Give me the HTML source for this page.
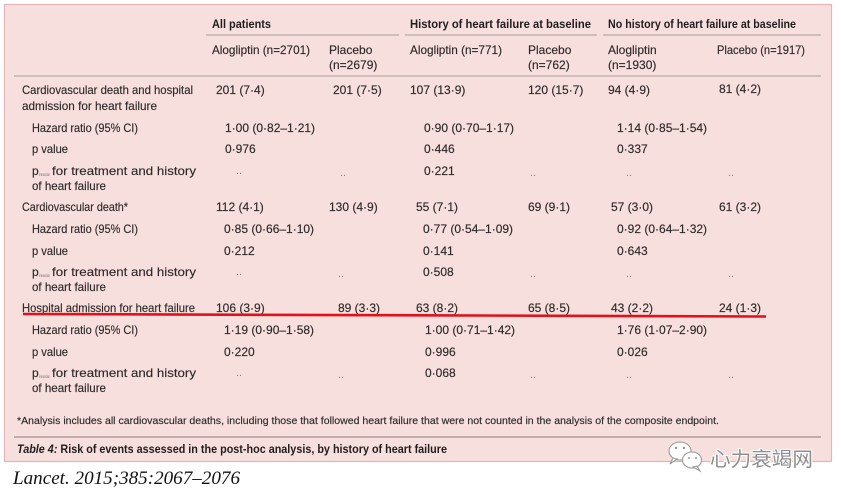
<!DOCTYPE html>
<html><head><meta charset="utf-8"><style>
html,body{margin:0;padding:0;background:#fff;width:841px;height:495px;overflow:hidden}
svg{display:block}
text{font-family:"Liberation Sans","Noto Sans CJK SC",sans-serif;font-size:12px;fill:#2f2929;stroke:#2f2929;stroke-width:0.15}
.b{font-weight:bold;fill:#221d1d;stroke:none}
.d{fill:#8c8080;stroke:none;font-size:11px}
.s{font-size:4.5px;fill:#7a6e6e;stroke:none}
</style></head><body>
<svg width="841" height="495" viewBox="0 0 841 495" xmlns="http://www.w3.org/2000/svg">
<rect x="4.5" y="4.5" width="827" height="457" fill="#f6dfdc" stroke="#e3b5b9" stroke-width="1.2"/>
<!-- header lines -->
<line x1="206" y1="35" x2="399" y2="35" stroke="#aa9b9b" stroke-width="1"/>
<line x1="405" y1="35" x2="597" y2="35" stroke="#aa9b9b" stroke-width="1"/>
<line x1="603" y1="35" x2="821" y2="35" stroke="#aa9b9b" stroke-width="1"/>
<line x1="14" y1="76" x2="821" y2="76" stroke="#aa9b9b" stroke-width="1"/>
<line x1="14" y1="437" x2="821" y2="437" stroke="#a38f8e" stroke-width="1.3"/>

<!-- headers -->
<text class="b" x="212" y="28" textLength="59" lengthAdjust="spacingAndGlyphs">All patients</text>
<text class="b" x="410" y="28" textLength="181" lengthAdjust="spacingAndGlyphs">History of heart failure at baseline</text>
<text class="b" x="608" y="28" textLength="188" lengthAdjust="spacingAndGlyphs">No history of heart failure at baseline</text>
<text x="212" y="54" textLength="98" lengthAdjust="spacingAndGlyphs">Alogliptin (n=2701)</text>
<text x="329" y="54">Placebo</text>
<text x="329" y="69">(n=2679)</text>
<text x="410" y="54" textLength="92" lengthAdjust="spacingAndGlyphs">Alogliptin (n=771)</text>
<text x="528" y="54">Placebo</text>
<text x="528" y="69">(n=762)</text>
<text x="608" y="54">Alogliptin</text>
<text x="608" y="69">(n=1930)</text>
<text x="717" y="54" textLength="88" lengthAdjust="spacingAndGlyphs">Placebo (n=1917)</text>

<!-- block 1 -->
<text x="22" y="94" textLength="171" lengthAdjust="spacingAndGlyphs">Cardiovascular death and hospital</text>
<text x="22" y="110" textLength="135" lengthAdjust="spacingAndGlyphs">admission for heart failure</text>
<text x="216" y="94">201 (7·4)</text>
<text x="333" y="94">201 (7·5)</text>
<text x="410" y="94">107 (13·9)</text>
<text x="528" y="94">120 (15·7)</text>
<text x="608" y="94">94 (4·9)</text>
<text x="719" y="93">81 (4·2)</text>
<text x="32" y="132" textLength="106" lengthAdjust="spacingAndGlyphs">Hazard ratio (95% CI)</text>
<text x="225" y="132">1·00 (0·82–1·21)</text>
<text x="424" y="132">0·90 (0·70–1·17)</text>
<text x="617" y="132">1·14 (0·85–1·54)</text>
<text x="32" y="153" textLength="36" lengthAdjust="spacingAndGlyphs">p value</text>
<text x="225" y="153">0·976</text>
<text x="424" y="153">0·446</text>
<text x="617" y="153">0·337</text>
<text x="32" y="175">p</text><text class="s" x="39" y="176" textLength="11" lengthAdjust="spacingAndGlyphs">interaction</text>
<text x="52" y="175" textLength="144" lengthAdjust="spacingAndGlyphs">for treatment and history</text>
<text x="32" y="190" textLength="74" lengthAdjust="spacingAndGlyphs">of heart failure</text>
<text class="d" x="236" y="174">..</text>
<text class="d" x="340" y="176">..</text>
<text x="424" y="175">0·221</text>
<text class="d" x="530" y="176">..</text>
<text class="d" x="626" y="176">..</text>
<text class="d" x="728" y="176">..</text>

<!-- block 2 -->
<text x="22" y="211" textLength="106" lengthAdjust="spacingAndGlyphs">Cardiovascular death*</text>
<text x="216" y="211">112 (4·1)</text>
<text x="329" y="211">130 (4·9)</text>
<text x="416" y="211">55 (7·1)</text>
<text x="528" y="211">69 (9·1)</text>
<text x="611" y="211">57 (3·0)</text>
<text x="719" y="211">61 (3·2)</text>
<text x="32" y="233" textLength="106" lengthAdjust="spacingAndGlyphs">Hazard ratio (95% CI)</text>
<text x="224" y="233">0·85 (0·66–1·10)</text>
<text x="423" y="233">0·77 (0·54–1·09)</text>
<text x="617" y="233">0·92 (0·64–1·32)</text>
<text x="32" y="255" textLength="36" lengthAdjust="spacingAndGlyphs">p value</text>
<text x="224" y="255">0·212</text>
<text x="423" y="255">0·141</text>
<text x="617" y="255">0·643</text>
<text x="32" y="276">p</text><text class="s" x="39" y="277" textLength="11" lengthAdjust="spacingAndGlyphs">interaction</text>
<text x="52" y="276" textLength="144" lengthAdjust="spacingAndGlyphs">for treatment and history</text>
<text x="32" y="291" textLength="74" lengthAdjust="spacingAndGlyphs">of heart failure</text>
<text class="d" x="236" y="275">..</text>
<text class="d" x="338" y="277">..</text>
<text x="423" y="276">0·508</text>
<text class="d" x="530" y="277">..</text>
<text class="d" x="626" y="277">..</text>
<text class="d" x="728" y="277">..</text>

<!-- block 3 -->
<text x="22" y="312" textLength="173" lengthAdjust="spacingAndGlyphs">Hospital admission for heart failure</text>
<text x="216" y="312">106 (3·9)</text>
<text x="338" y="312">89 (3·3)</text>
<text x="416" y="312">63 (8·2)</text>
<text x="528" y="312">65 (8·5)</text>
<text x="611" y="312">43 (2·2)</text>
<text x="719" y="312">24 (1·3)</text>
<text x="32" y="334" textLength="106" lengthAdjust="spacingAndGlyphs">Hazard ratio (95% CI)</text>
<text x="224" y="334">1·19 (0·90–1·58)</text>
<text x="425" y="334">1·00 (0·71–1·42)</text>
<text x="617" y="334">1·76 (1·07–2·90)</text>
<text x="32" y="356" textLength="36" lengthAdjust="spacingAndGlyphs">p value</text>
<text x="224" y="356">0·220</text>
<text x="425" y="356">0·996</text>
<text x="617" y="356">0·026</text>
<text x="32" y="377">p</text><text class="s" x="39" y="378" textLength="11" lengthAdjust="spacingAndGlyphs">interaction</text>
<text x="52" y="377" textLength="144" lengthAdjust="spacingAndGlyphs">for treatment and history</text>
<text x="32" y="392" textLength="74" lengthAdjust="spacingAndGlyphs">of heart failure</text>
<text class="d" x="236" y="376">..</text>
<text class="d" x="338" y="378">..</text>
<text x="425" y="377">0·068</text>
<text class="d" x="530" y="378">..</text>
<text class="d" x="626" y="378">..</text>
<text class="d" x="728" y="378">..</text>

<!-- red underline -->
<line x1="23" y1="314" x2="766" y2="316.5" stroke="#e3101a" stroke-width="2.6"/>

<!-- footnote & caption -->
<text x="17" y="424" style="font-size:10.5px" textLength="702" lengthAdjust="spacingAndGlyphs">*Analysis includes all cardiovascular deaths, including those that followed heart failure that were not counted in the analysis of the composite endpoint.</text>
<text class="b" x="17" y="453" style="font-size:12px" textLength="430" lengthAdjust="spacingAndGlyphs"><tspan font-style="italic">Table 4:</tspan> Risk of events assessed in the post-hoc analysis, by history of heart failure</text>

<!-- citation -->
<text x="13" y="484" style="font-family:'Liberation Serif',serif;font-style:italic;font-size:19px;fill:#111;stroke:none" textLength="227" lengthAdjust="spacingAndGlyphs">Lancet. 2015;385:2067–2076</text>

<!-- watermark -->
<g stroke="#9a9a9a" stroke-width="1.1" fill="#fff">
<ellipse cx="680" cy="451" rx="11" ry="9"/>
<path d="M673 458 L670 464 L677 459 Z"/>
<ellipse cx="692" cy="460" rx="9.5" ry="8"/>
<path d="M697 466 L700 471 L693 467 Z"/>
</g>
<circle cx="676" cy="448" r="1.2" fill="#9a9a9a"/>
<circle cx="684" cy="448" r="1.2" fill="#9a9a9a"/>
<circle cx="689" cy="458" r="1" fill="#9a9a9a"/>
<circle cx="696" cy="458" r="1" fill="#9a9a9a"/>
<text x="710" y="466" style="font-family:'Noto Sans CJK SC',sans-serif;font-size:20px;fill:#8e8e8e;stroke:#fff;stroke-width:2;paint-order:stroke" textLength="103" lengthAdjust="spacingAndGlyphs">心力衰竭网</text>
</svg>
</body></html>
